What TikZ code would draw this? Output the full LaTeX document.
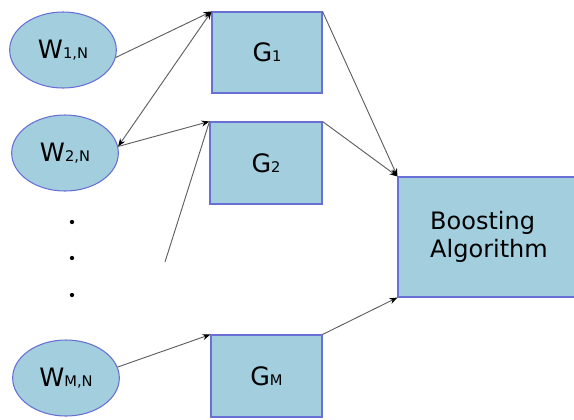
\documentclass[tikz,border=0pt]{standalone}
\usepackage{fontspec}
\setmainfont{DejaVu Sans}
\usetikzlibrary{shapes.geometric}
\usetikzlibrary{arrows.meta}

\definecolor{boxfill}{RGB}{162,206,222}
\definecolor{boxline}{RGB}{104,112,214}
\definecolor{linkgray}{RGB}{95,95,95}

\newcommand{\bigsmall}[2]{{\fontsize{19}{19}\selectfont #1}{\fontsize{11}{11}\selectfont #2}}

\begin{document}
\begin{tikzpicture} [x=0.75pt, y=-0.75pt,
        wnode/.style={draw=boxline, fill=boxfill, ellipse, line width=0.8pt, minimum width=80pt, minimum height=57pt, inner sep=0pt},
        gnode/.style={draw=boxline, fill=boxfill, rectangle, line width=0.8pt, inner sep=0pt},
        link/.style={draw=linkgray, line width=0.7pt, -{Stealth[length=6pt, width=4.5pt, black]}}]
            \useasboundingbox (0,0) rectangle (574,419);

            \node[wnode] (w1) at (63, 50)   {\bigsmall{W}{1,N}};
            \node[wnode] (w2) at (65, 153)  {\bigsmall{W}{2,N}};
            \node[wnode] (wm) at (66, 378)  {\bigsmall{W}{M,N}};

            \node[gnode, minimum width=82.5pt, minimum height=60.75pt] (g1) at (267, 52.5) {\bigsmall{G}{1}};
            \node[gnode, minimum width=84pt, minimum height=61.5pt] (g2) at (266, 163)     {\bigsmall{G}{2}};
            \node[gnode, minimum width=83.25pt, minimum height=61.5pt] (gm) at (266.5, 376) {\bigsmall{G}{M}};

            \node[gnode, minimum width=136.5pt, minimum height=90pt, align=left, font=\fontsize{18}{21}\selectfont] (boost) at (489, 237) {Boosting\\Algorithm};

            \coordinate (loose) at (165, 262);

            \foreach \y in {222, 258, 295}
                \fill (72, \y) circle (1.6pt);

            \draw[link] (w1.-8) -- (g1.north west);
            \draw[link, {Stealth[length=6pt, width=4.5pt, black]}-{Stealth[length=6pt, width=4.5pt, black]}] (w2.7) -- (g1.north west);
            \draw[link] (w2.7) -- (g2.north west);
            \draw[draw=linkgray, line width=0.7pt] (loose) -- (g2.north west);
            \draw[link] (wm.12) -- (gm.north west);

            \draw[link] (g1.north east) -- (boost.north west);
            \draw[link] (g2.north east) -- (boost.north west);
            \draw[link] (gm.north east) -- (boost.south west);
        \end{tikzpicture}
\end{document}
